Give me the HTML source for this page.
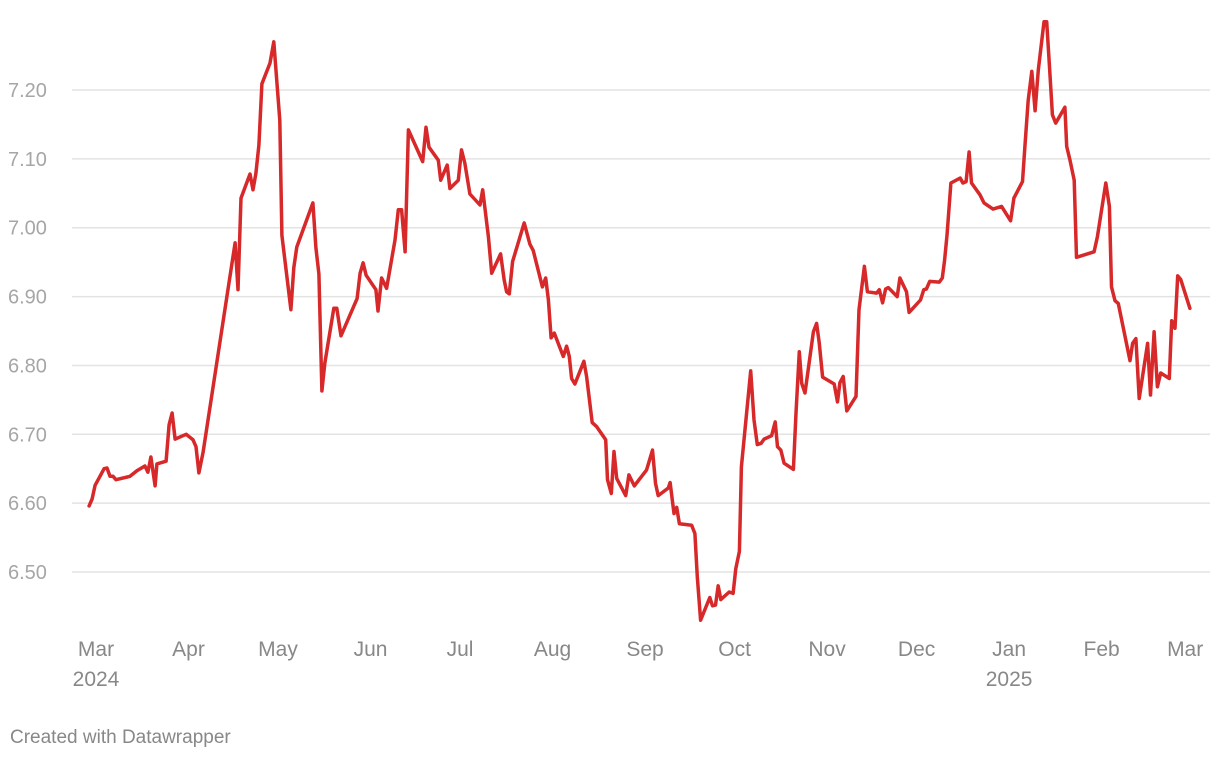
<!DOCTYPE html>
<html><head><meta charset="utf-8"><style>
html,body{margin:0;padding:0;background:#fff;}
body{width:1220px;height:760px;overflow:hidden;font-family:"Liberation Sans",Arial,sans-serif;}
svg text{font-family:"Liberation Sans",Arial,sans-serif;}
</style></head><body>
<svg id="chart" width="1220" height="760" xmlns="http://www.w3.org/2000/svg">
<g id="grid"></g>
<g id="yaxis"></g>
<g id="xaxis"></g>
<path id="line" fill="none" stroke="#d7282a" stroke-width="3.5" stroke-linejoin="round" stroke-linecap="round"></path>
<text x="10" y="743" font-size="19" fill="#888">Created with Datawrapper</text>
</svg>
<script>
const days = [-2.3,-1.3,-0.3,2.7,3.7,4.7,5.7,6.7,11.4,13.7,16.4,17.4,18.4,19.8,20.4,23.5,24.5,25.5,26.5,30.2,32.5,33.5,34.5,35.9,46.6,47.6,48.6,51.6,52.6,53.6,54.6,55.6,58.3,59.6,61.6,62.3,65.3,66.3,67.3,72.7,73.7,74.7,75.7,76.7,79.7,80.7,82.1,87.5,88.5,89.5,90.5,93.8,94.5,95.7,97.4,100.2,101.3,102.4,103.6,104.7,109.5,110.6,111.6,114.7,115.5,117.7,118.6,121.4,122.5,123.6,125.3,128.7,129.6,131.5,132.6,135.6,136.8,137.6,138.5,139.6,143.5,145.4,146.5,149.6,150.7,151.6,152.5,153.6,156.6,157.7,158.6,159.4,160.5,163.5,164.4,166.3,167.8,170.8,171.4,172.7,173.6,174.5,177.5,178.6,180.4,184.5,186.5,187.5,188.4,191.8,192.4,193.7,194.6,195.5,199.6,200.7,201.5,202.6,205.7,206.6,207.6,208.5,209.4,212.2,213.5,214.4,215.6,216.3,219.4,220.5,221.6,222.9,223.9,226.4,227.6,228.4,229.5,230.6,233.7,234.6,235.7,236.5,237.6,240.4,241.5,242.4,243.5,247.4,248.5,249.3,250.4,251.6,254.7,255.7,257.5,258.5,261.6,262.5,263.6,264.6,265.5,268.5,269.4,271.6,272.5,276.3,277.4,278.3,279.4,282.6,283.6,284.4,285.2,286.5,289.6,290.5,291.6,292.6,293.4,296.2,297.6,300.6,303.5,306.5,307.6,310.5,311.3,312.4,313.6,314.7,315.8,317.7,318.6,319.5,320.5,321.6,324.7,325.3,326.4,327.8,328.6,334.5,335.6,338.4,339.6,340.3,341.5,342.6,346.5,347.4,348.5,349.6,352.4,353.4,354.6,355.7,356.8,359.7,360.5,361.6,362.5,363.5,366.6];
const rates = [6.596,6.606,6.626,6.650,6.651,6.639,6.639,6.634,6.639,6.647,6.654,6.645,6.667,6.625,6.657,6.661,6.714,6.731,6.693,6.700,6.692,6.682,6.644,6.674,6.978,6.910,7.043,7.078,7.055,7.079,7.120,7.209,7.239,7.270,7.156,6.989,6.881,6.942,6.972,7.036,6.971,6.933,6.763,6.804,6.883,6.883,6.843,6.897,6.934,6.949,6.931,6.910,6.879,6.927,6.912,6.982,7.026,7.026,6.965,7.142,7.096,7.146,7.117,7.098,7.069,7.091,7.057,7.069,7.113,7.094,7.049,7.033,7.055,6.987,6.934,6.962,6.924,6.907,6.904,6.951,7.007,6.976,6.967,6.914,6.927,6.895,6.840,6.847,6.813,6.828,6.813,6.781,6.773,6.806,6.784,6.717,6.711,6.692,6.634,6.614,6.675,6.636,6.611,6.641,6.625,6.648,6.677,6.629,6.611,6.622,6.630,6.585,6.594,6.570,6.568,6.556,6.493,6.430,6.463,6.451,6.452,6.480,6.460,6.471,6.469,6.505,6.530,6.653,6.792,6.721,6.685,6.687,6.693,6.698,6.718,6.682,6.677,6.658,6.649,6.731,6.820,6.774,6.760,6.849,6.861,6.832,6.783,6.773,6.747,6.775,6.784,6.734,6.755,6.881,6.944,6.907,6.905,6.910,6.891,6.911,6.913,6.900,6.927,6.907,6.877,6.895,6.910,6.911,6.922,6.921,6.927,6.953,6.989,7.065,7.072,7.065,7.067,7.110,7.065,7.048,7.036,7.027,7.031,7.010,7.043,7.067,7.118,7.185,7.227,7.170,7.229,7.299,7.299,7.236,7.164,7.152,7.175,7.118,7.098,7.069,6.957,6.965,6.987,7.065,7.031,6.914,6.894,6.890,6.807,6.832,6.839,6.752,6.832,6.757,6.849,6.769,6.789,6.781,6.865,6.854,6.930,6.925,6.883];
const yTicks = [6.5,6.6,6.7,6.8,6.9,7.0,7.1,7.2];
const xTickDays = [0,31,61,92,122,153,184,214,245,275,306,337,365];
const xTickLabels = ["Mar","Apr","May","Jun","Jul","Aug","Sep","Oct","Nov","Dec","Jan","Feb","Mar"];
const xTickYears = ["2024","","","","","","","","","","2025","",""];

const NS = "http://www.w3.org/2000/svg";
function xs(d){ return 96 + d*2.984; }
function ys(v){ return 90 + (7.2 - v)*688.6; }
function mk(tag, attrs, parent){ const e=document.createElementNS(NS,tag); for(const k in attrs) e.setAttribute(k,attrs[k]); parent.appendChild(e); return e; }

const grid=document.getElementById('grid'), ya=document.getElementById('yaxis'), xa=document.getElementById('xaxis');
yTicks.forEach(t=>{
  const l=mk('line',{x1:72,x2:1210,y1:ys(t),y2:ys(t),stroke:'#e3e3e3','stroke-width':1.5},grid);
  
  
  const tx=mk('text',{x:8,y:ys(t)+7,'font-size':20,fill:'#a6a6a6'},ya);
  tx.textContent=t.toFixed(2);
  
  
});
xTickDays.forEach((d,i)=>{
  const tx=mk('text',{x:xs(d),y:656,'font-size':21,fill:'#888','text-anchor':'middle'},xa);
  tx.textContent=xTickLabels[i];
  
  
  if(xTickYears[i]){
    const ty=mk('text',{x:xs(d),y:686,'font-size':21,fill:'#888','text-anchor':'middle'},xa);
    ty.textContent=xTickYears[i];
    
    
  }
});
document.getElementById('line').setAttribute('d', days.map((d,i)=>(i?'L':'M')+xs(d).toFixed(1)+','+ys(rates[i]).toFixed(1)).join(''));
</script>
</body></html>
